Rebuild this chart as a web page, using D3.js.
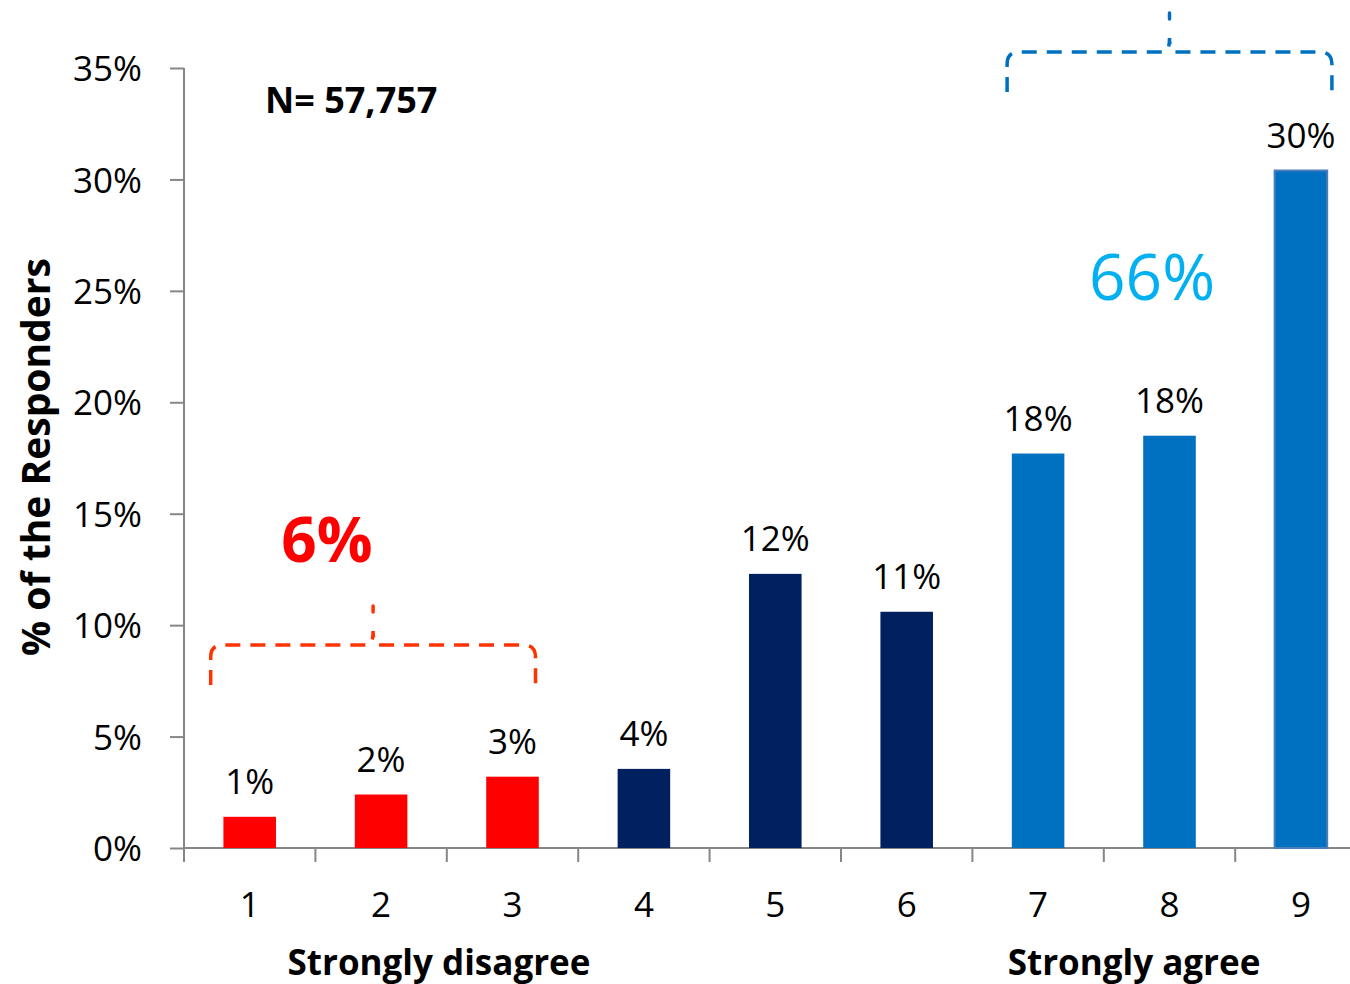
<!DOCTYPE html>
<html>
<head>
<meta charset="utf-8">
<script src="https://cdn.jsdelivr.net/npm/d3@7"></script>
<style>
  body { margin: 0; background: #fff; }
  svg text { font-family: "Open Sans", sans-serif; fill: #000; }
</style>
</head>
<body>
<div id="chart"></div>
<script>
// chart data
var categories = ["1", "2", "3", "4", "5", "6", "7", "8", "9"];
var values = [1.4, 2.4, 3.2, 3.55, 12.3, 10.6, 17.7, 18.5, 30.4];
var valueLabels = ["1%", "2%", "3%", "4%", "12%", "11%", "18%", "18%", "30%"];
var barColors = ["#ff0000", "#ff0000", "#ff0000", "#002060", "#002060", "#002060", "#0070c0", "#0070c0", "#0070c0"];
var yTicks = [0, 5, 10, 15, 20, 25, 30, 35];
var groupTotals = ["6%", "66%"];
var sampleText = "N= 57,757";

var WIDTH = 1350, HEIGHT = 984;
var plotLeft = 184, plotBottom = 848, plotTop = 68;
var step = 131.4;

var svg = d3.select("#chart").append("svg")
    .attr("width", WIDTH)
    .attr("height", HEIGHT);

// scales
var x = d3.scaleBand()
    .domain(categories)
    .range([plotLeft, plotLeft + step * categories.length])
    .paddingInner(0.6)
    .paddingOuter(0.3);

var xBand = d3.scaleBand()
    .domain(categories)
    .range([plotLeft, plotLeft + step * categories.length]);

var y = d3.scaleLinear()
    .domain([0, 35])
    .range([plotBottom, plotTop]);

// y axis
var yAxis = d3.axisLeft(y)
    .tickValues(yTicks)
    .tickSize(14)
    .tickPadding(28)
    .tickFormat(function (d) { return d + "%"; });

var gy = svg.append("g")
    .attr("transform", "translate(" + plotLeft + ",0)")
    .call(yAxis);
gy.select(".domain").attr("stroke", "#868686").attr("stroke-width", 2).attr("d", "M0," + plotTop + "V" + plotBottom);
gy.selectAll(".tick line").attr("stroke", "#868686").attr("stroke-width", 2);
gy.selectAll(".tick text")
    .style("font-size", "35px")
    .attr("dy", "0.36em");

// x axis (labels centred on band, ticks on band edges)
var gx = svg.append("g");
gx.append("line")
    .attr("x1", plotLeft).attr("x2", WIDTH)
    .attr("y1", plotBottom).attr("y2", plotBottom)
    .attr("stroke", "#868686").attr("stroke-width", 2);
gx.selectAll("line.tk")
    .data(categories).enter()
    .append("line")
    .attr("class", "tk")
    .attr("x1", function (d) { return xBand(d); })
    .attr("x2", function (d) { return xBand(d); })
    .attr("y1", plotBottom).attr("y2", plotBottom + 14)
    .attr("stroke", "#868686").attr("stroke-width", 2);
gx.selectAll("text")
    .data(categories).enter()
    .append("text")
    .attr("x", function (d) { return xBand(d) + xBand.bandwidth() / 2; })
    .attr("y", 917)
    .attr("text-anchor", "middle")
    .style("font-size", "35px")
    .text(function (d) { return d; });

// bars
svg.selectAll("rect.bar")
    .data(values).enter()
    .append("rect")
    .attr("class", "bar")
    .attr("x", function (d, i) { return x(categories[i]); })
    .attr("y", function (d) { return y(d); })
    .attr("width", x.bandwidth())
    .attr("height", function (d) { return plotBottom - y(d); })
    .attr("fill", function (d, i) { return barColors[i]; })
    .attr("stroke", function (d, i) { return i === 8 ? "#4a7ebb" : "none"; })
    .attr("stroke-width", 2);

// value labels
svg.selectAll("text.val")
    .data(values).enter()
    .append("text")
    .attr("class", "val")
    .attr("x", function (d, i) { return x(categories[i]) + x.bandwidth() / 2; })
    .attr("y", function (d) { return y(d) - 23; })
    .attr("text-anchor", "middle")
    .style("font-size", "35px")
    .text(function (d, i) { return valueLabels[i]; });

// y title
svg.append("text")
    .attr("transform", "translate(50,457)rotate(-90)")
    .attr("text-anchor", "middle")
    .style("font-size", "39px")
    .style("font-weight", "bold")
    .text("% of the Responders");

// bottom titles
svg.append("text")
    .attr("x", 439).attr("y", 975)
    .attr("text-anchor", "middle")
    .style("font-size", "35px")
    .style("font-weight", "bold")
    .text("Strongly disagree");
svg.append("text")
    .attr("x", 1134).attr("y", 975)
    .attr("text-anchor", "middle")
    .style("font-size", "35px")
    .style("font-weight", "bold")
    .text("Strongly agree");

// sample size
svg.append("text")
    .attr("x", 265).attr("y", 113)
    .style("font-size", "36px")
    .style("font-weight", "bold")
    .text(sampleText);

// curly brackets
function bracket(x0, x1, xc, yb, yh, ytip, color) {
    var r = 12;
    var p = "M" + x0 + "," + yb +
        "V" + (yh + r) +
        "Q" + x0 + "," + yh + " " + (x0 + r) + "," + yh +
        "H" + (xc - 6) +
        "Q" + xc + "," + yh + " " + xc + "," + (yh - 14) +
        "Q" + xc + "," + yh + " " + (xc + 6) + "," + yh +
        "H" + (x1 - r) +
        "Q" + x1 + "," + yh + " " + x1 + "," + (yh + r) +
        "V" + yb;
    svg.append("path")
        .attr("d", p)
        .attr("fill", "none")
        .attr("stroke", color)
        .attr("stroke-width", 3.5)
        .attr("stroke-dasharray", "15,10");
    svg.append("line")
        .attr("x1", xc).attr("x2", xc)
        .attr("y1", ytip + 2).attr("y2", ytip + 8)
        .attr("stroke", color)
        .attr("stroke-width", 3.5)
        .attr("stroke-linecap", "round");
}

var c1 = x("1") + x.bandwidth() / 2, c3 = x("3") + x.bandwidth() / 2;
var c7 = x("7") + x.bandwidth() / 2, c9 = x("9") + x.bandwidth() / 2;
bracket(c1 - 39, c3 + 23, (c1 + c3) / 2 - 8, 685, 645, 604, "#ff3300");
bracket(c7 - 31, c9 + 31, (c7 + c9) / 2, 92, 52, 11, "#0070c0");

// group totals
svg.append("text")
    .attr("x", 327).attr("y", 562)
    .attr("text-anchor", "middle")
    .style("font-size", "62px")
    .style("font-weight", "bold")
    .style("fill", "#ff0000")
    .text(groupTotals[0]);
svg.append("text")
    .attr("x", 1152).attr("y", 300)
    .attr("text-anchor", "middle")
    .style("font-size", "64px")
    .style("fill", "#00b0f0")
    .text(groupTotals[1]);
</script>
</body>
</html>
